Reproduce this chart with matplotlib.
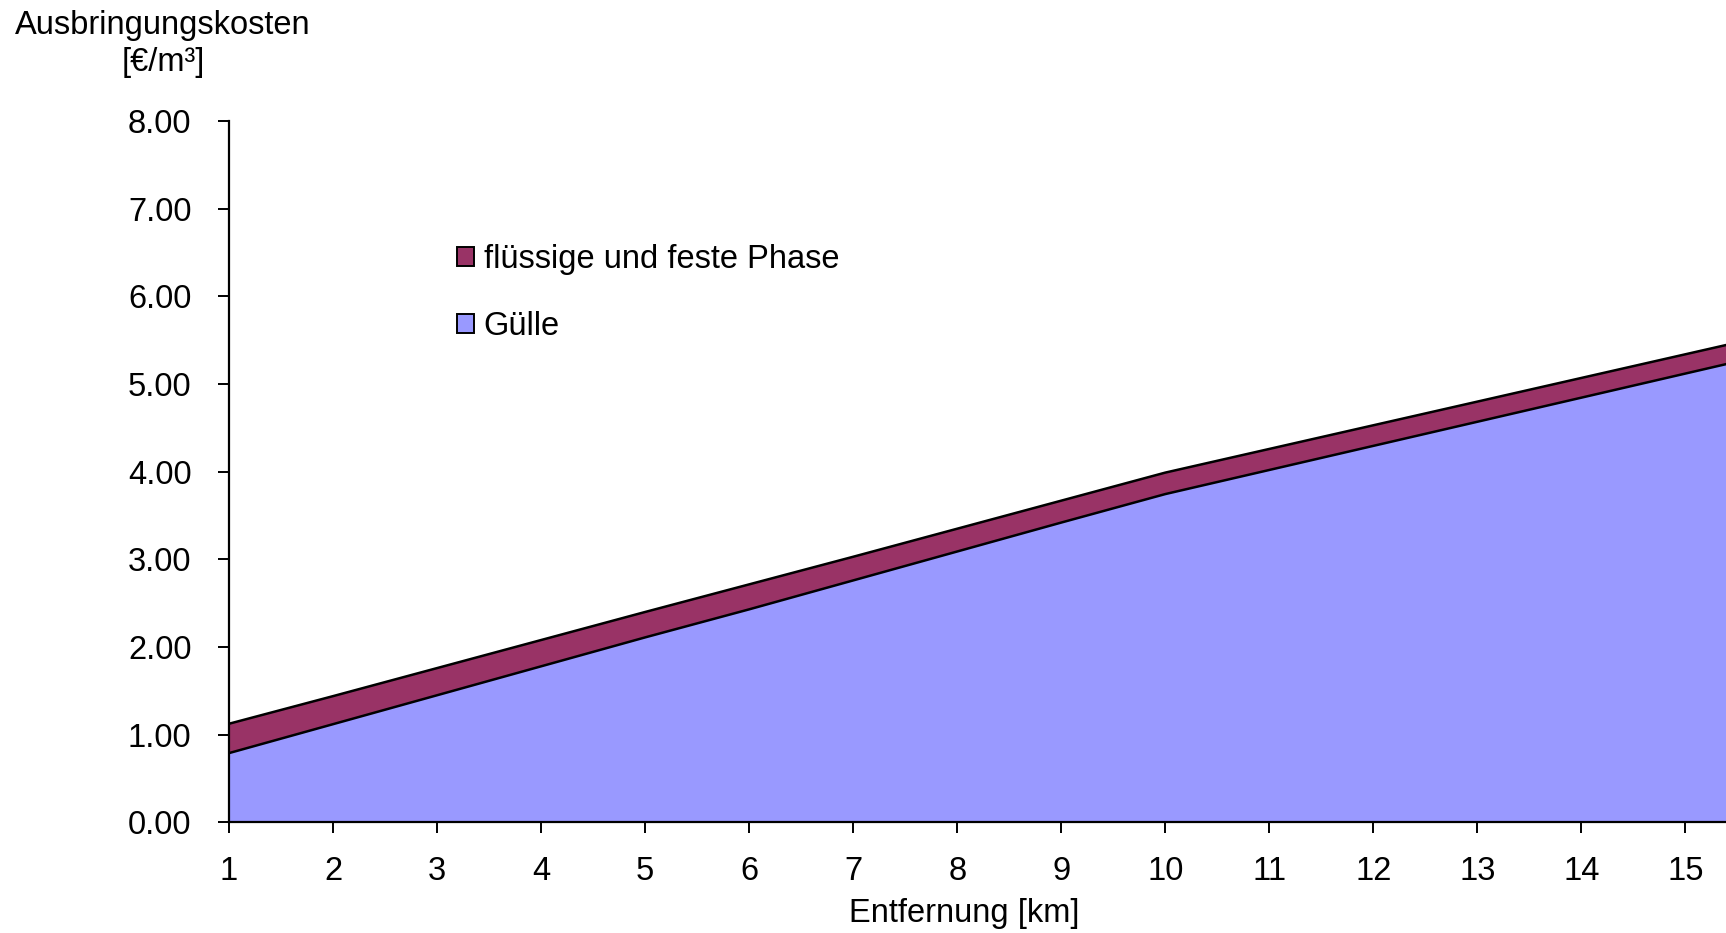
import numpy as np
import matplotlib.pyplot as plt
from matplotlib.patches import Patch

plt.rcParams['font.family'] = ['Liberation Sans', 'DejaVu Sans']

# Entfernung in km und Kosten je Schicht in EUR/m3
entfernung = [1, 2, 3, 4, 5, 6, 7, 8, 9, 10, 11, 12, 13, 14, 15, 16]
guelle = [0.79, 1.12, 1.45, 1.78, 2.11, 2.43, 2.76, 3.09, 3.42, 3.745,
          4.02, 4.295, 4.57, 4.845, 5.12, 5.395]
phase = [0.335, 0.32, 0.31, 0.30, 0.29, 0.285, 0.27, 0.26, 0.25, 0.245,
         0.24, 0.235, 0.23, 0.225, 0.22, 0.215]
y_ticks = [0, 1, 2, 3, 4, 5, 6, 7, 8]

col_guelle = '#9999FF'
col_phase = '#993366'
fs = 23.5

x = np.array(entfernung)
g = np.array(guelle)
top = g + np.array(phase)

fig = plt.figure(figsize=(17.26, 9.33), dpi=100)
ax = fig.add_axes([0.1327, 0.1186, 0.8673, 0.7516])

ax.fill_between(x, 0, g, facecolor=col_guelle, linewidth=0)
ax.fill_between(x, g, top, facecolor=col_phase, linewidth=0)
ax.plot(x, g, color='black', lw=1.8)
ax.plot(x, top, color='black', lw=1.8)

ax.set_xlim(1, 15.39)
ax.set_ylim(0, 8)
ax.set_xticks(range(1, 16))
ax.set_yticks(y_ticks)
ax.set_yticklabels(['%.2f' % v for v in y_ticks])

for s in ['top', 'right']:
    ax.spines[s].set_visible(False)
for s in ['left', 'bottom']:
    ax.spines[s].set_linewidth(1.6)
    ax.spines[s].set_zorder(5)
ax.tick_params(axis='both', direction='out', length=8, width=1.4,
               labelsize=fs)
ax.tick_params(axis='y', pad=19)
ax.tick_params(axis='x', pad=16)

fig.text(0.0944, 0.9636, 'Ausbringungskosten', ha='center', va='baseline', fontsize=fs)
fig.text(0.0944, 0.9235, '[€/m³]', ha='center', va='baseline', fontsize=fs)
fig.text(0.5585, 0.021, 'Entfernung [km]', ha='center', va='center', fontsize=fs)

handles = [Patch(facecolor=col_phase, edgecolor='black', lw=1.4),
           Patch(facecolor=col_guelle, edgecolor='black', lw=1.4)]
fig.legend(handles, ['flüssige und feste Phase', 'Gülle'], loc='upper left',
           bbox_to_anchor=(0.2647, 0.738), frameon=False, fontsize=fs,
           handlelength=0.52, handleheight=0.52, handletextpad=0.3,
           labelspacing=1.09, borderpad=0, borderaxespad=0)

fig.savefig('out.png', dpi=100)
